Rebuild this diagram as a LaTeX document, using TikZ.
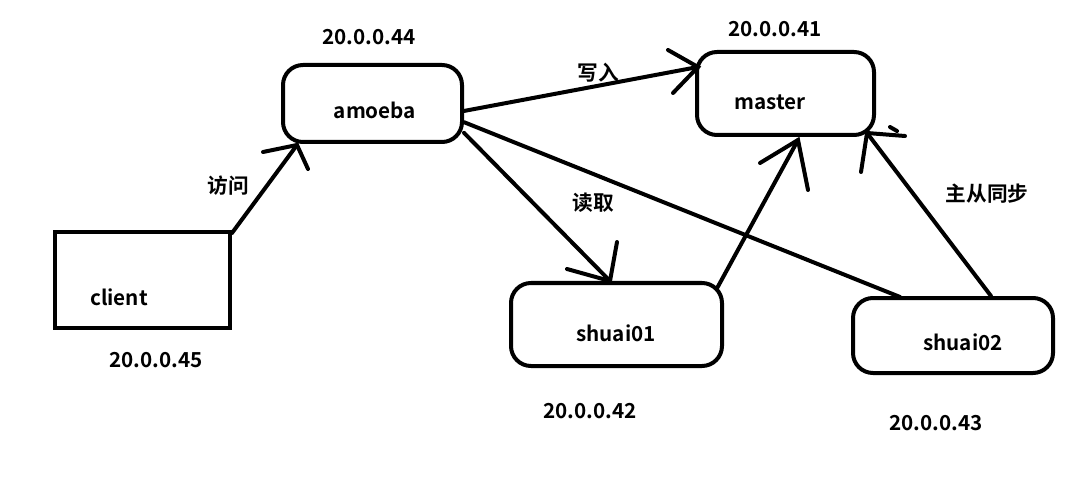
\documentclass[tikz,border=0pt]{standalone}
\usepackage{fontspec}
\setmainfont{Noto Sans CJK SC}[BoldFont={Noto Sans CJK SC Bold}]
\begin{document}
\begin{tikzpicture}[x=0.75pt,y=-0.75pt,
  rbox/.style={draw,line width=3pt,rounded corners=15pt,inner sep=0pt},
  lbl/.style={font=\fontsize{15.5}{18}\selectfont\bfseries,inner sep=0pt},
  stroke/.style={line width=3pt,line cap=round}]
\useasboundingbox[fill=white] (0,0) rectangle (1081,477);
% boxes
\node[draw,line width=3pt,inner sep=0pt,minimum width=131.25pt,minimum height=72pt] (client) at (142.5,280) {};
\node[rbox,minimum width=134.25pt,minimum height=57.75pt] (amoeba) at (372.5,103.5) {};
\node[rbox,minimum width=132.75pt,minimum height=62.25pt] (master) at (785.5,93.5) {};
\node[rbox,minimum width=158.25pt,minimum height=62.25pt] (shuai01) at (616.5,324.5) {};
\node[rbox,minimum width=150pt,minimum height=56.25pt] (shuai02) at (953,335.5) {};
% texts in boxes
\node[lbl] (tclient) at (119,297) {client};
\node[lbl] (tamoeba) at (375,110) {amoeba};
\node[lbl] (tmaster) at (770,102) {master};
\node[lbl] (tshuai01) at (616,333) {shuai01};
\node[lbl] (tshuai02) at (963,342) {shuai02};
% address labels
\node[lbl] (ip44) at (369,37) {20.0.0.44};
\node[lbl] (ip41) at (775,29) {20.0.0.41};
\node[lbl] (ip45) at (156,360) {20.0.0.45};
\node[lbl] (ip42) at (590,411) {20.0.0.42};
\node[lbl] (ip43) at (936,423) {20.0.0.43};
% connector labels
\node[lbl] (l1) at (228,186) {访问};
\node[lbl] (l2) at (598,73) {写入};
\node[lbl] (l3) at (593,203) {读取};
\node[lbl] (l4) at (987,194) {主从同步};
% tips
\coordinate (t1) at (297,145);
\coordinate (t2) at (698,67);
\coordinate (t3) at (610,281);
\coordinate (t5) at (798,140);
\coordinate (t6) at (867,133);
\coordinate (s2) at (900,297);
% client -> amoeba
\draw[stroke] ([yshift=-2.25pt]client.north east) -- (t1);
\draw[stroke] (263,152) -- (t1) -- (308,169);
% amoeba -> master
\draw[stroke] ([yshift=-5.6pt]amoeba.east) -- (t2);
\draw[stroke] (668,50) -- (t2) -- (673,93);
% amoeba -> shuai01
\draw[stroke] ([yshift=-22pt]amoeba.east) -- (t3);
\draw[stroke] (567,269) -- (t3) -- (617,242);
% amoeba -- shuai02
\draw[stroke] ([yshift=-14pt]amoeba.east) -- (s2);
% shuai01 -> master
\draw[stroke] ([xshift=-5pt,yshift=-5pt]shuai01.north east) -- (t5);
\draw[stroke] (760,163) -- (t5) -- (808,190);
% shuai02 -> master
\draw[stroke] ([xshift=-48pt]shuai02.north east) -- (t6);
\draw[stroke] (861,172) -- (t6) -- (905,136);
\draw[stroke] (890,127) -- (897,131);
\end{tikzpicture}
\end{document}
